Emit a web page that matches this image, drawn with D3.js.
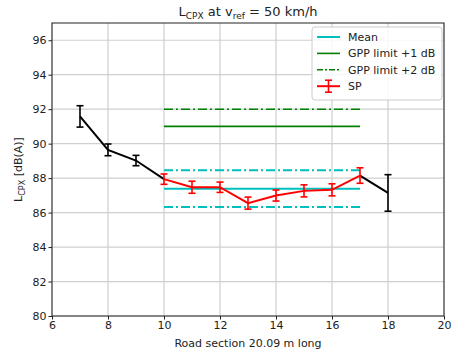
<!DOCTYPE html>
<html>
<head>
<meta charset="utf-8">
<script src="https://cdnjs.cloudflare.com/ajax/libs/d3/7.8.5/d3.min.js"></script>
<style>
  body { margin: 0; background: #fff; }
  text { font-family: "DejaVu Sans", sans-serif; fill: #222; }
</style>
</head>
<body>
<script>
// black segments (outside the SP range)
const leftX = [7, 8, 9, 10];
const leftY = [91.58, 89.64, 89.02, 87.94];
const leftErr = [0.62, 0.34, 0.3, 0];
const rightX = [17, 18];
const rightY = [88.15, 87.14];
const rightErr = [0, 1.06];
// SP series (red)
const spX = [10, 11, 12, 13, 14, 15, 16, 17];
const spY = [87.94, 87.47, 87.47, 86.55, 86.99, 87.26, 87.32, 88.15];
const spErr = [0.3, 0.35, 0.3, 0.35, 0.32, 0.35, 0.35, 0.45];
// horizontal reference lines over x 10..17
const meanVal = 87.39, meanBand = 1.07;
const gpp1 = 91, gpp2 = 92;
const xTicks = [6, 8, 10, 12, 14, 16, 18, 20];
const yTicks = [80, 82, 84, 86, 88, 90, 92, 94, 96];

const W = 451, H = 354;
const m = {l: 52, r: 7, t: 23, b: 38};
const svg = d3.select("body").append("svg").attr("width", W).attr("height", H);

const x = d3.scaleLinear().domain([6, 20]).range([m.l, W - m.r]);
const y = d3.scaleLinear().domain([80, 97]).range([H - m.b, m.t]);

const g = svg.append("g");

// grid
g.selectAll(".gx").data(xTicks).enter().append("line")
  .attr("x1", d => x(d)).attr("x2", d => x(d)).attr("y1", y(80)).attr("y2", y(97))
  .attr("stroke", "#cfcfcf").attr("stroke-width", 1.2);
g.selectAll(".gy").data(yTicks).enter().append("line")
  .attr("x1", x(6)).attr("x2", x(20)).attr("y1", d => y(d)).attr("y2", d => y(d))
  .attr("stroke", "#cfcfcf").attr("stroke-width", 1.2);

// axes
const xAxis = g.append("g").attr("transform", `translate(0,${y(80)})`)
  .call(d3.axisBottom(x).tickValues(xTicks).tickSize(3.5).tickPadding(2));
const yAxis = g.append("g").attr("transform", `translate(${x(6)},0)`)
  .call(d3.axisLeft(y).tickValues(yTicks).tickSize(3.5).tickPadding(2));
[xAxis, yAxis].forEach(a => {
  a.select(".domain").remove();
  a.selectAll("text").style("font-size", "11px").style("font-family", "DejaVu Sans").attr("fill", "#222");
  a.selectAll("line").attr("stroke", "#222");
});

function hline(v, color, dash, width) {
  g.append("line").attr("x1", x(10)).attr("x2", x(17)).attr("y1", y(v)).attr("y2", y(v))
    .attr("stroke", color).attr("stroke-width", width).attr("stroke-dasharray", dash);
}
const dashDot = "9,3,2,3";
hline(meanVal, "#00bfbf", null, 2);
hline(meanVal + meanBand, "#00bfbf", dashDot, 2);
hline(meanVal - meanBand, "#00bfbf", dashDot, 2);
hline(gpp1, "#008000", null, 1.6);
hline(gpp2, "#008000", dashDot, 1.6);

const line = d3.line().x(d => x(d[0])).y(d => y(d[1]));
function series(xs, ys, es, color) {
  const pts = xs.map((v, i) => [v, ys[i], es[i]]);
  g.append("path").datum(pts).attr("d", line).attr("fill", "none")
    .attr("stroke", color).attr("stroke-width", 2);
  const eb = g.append("g").selectAll("g").data(pts.filter(p => p[2] > 0)).enter().append("g")
    .attr("stroke", color).attr("stroke-width", 1.6);
  eb.append("line").attr("x1", d => x(d[0])).attr("x2", d => x(d[0]))
    .attr("y1", d => y(d[1] - d[2])).attr("y2", d => y(d[1] + d[2]));
  eb.append("line").attr("x1", d => x(d[0]) - 3.5).attr("x2", d => x(d[0]) + 3.5)
    .attr("y1", d => y(d[1] - d[2])).attr("y2", d => y(d[1] - d[2]));
  eb.append("line").attr("x1", d => x(d[0]) - 3.5).attr("x2", d => x(d[0]) + 3.5)
    .attr("y1", d => y(d[1] + d[2])).attr("y2", d => y(d[1] + d[2]));
}
series(leftX, leftY, leftErr, "#000");
series(rightX, rightY, rightErr, "#000");
series(spX, spY, spErr, "#ff0000");

// frame
g.append("rect").attr("x", x(6)).attr("y", y(97)).attr("width", x(20) - x(6)).attr("height", y(80) - y(97))
  .attr("fill", "none").attr("stroke", "#222").attr("stroke-width", 1);

// legend
const leg = svg.append("g").attr("transform", "translate(312,27)");
leg.append("rect").attr("width", 130).attr("height", 73).attr("rx", 3)
  .attr("fill", "rgba(255,255,255,0.85)").attr("stroke", "#ccc");
const legItems = [
  {label: "Mean", color: "#00bfbf", dash: null, w: 2},
  {label: "GPP limit +1 dB", color: "#008000", dash: null, w: 1.6},
  {label: "GPP limit +2 dB", color: "#008000", dash: "6,2,2,2", w: 1.6},
  {label: "SP", color: "#ff0000", dash: null, w: 2, err: true}
];
legItems.forEach((d, i) => {
  const cy = 10 + i * 16.4;
  leg.append("line").attr("x1", 5).attr("x2", 28).attr("y1", cy).attr("y2", cy)
    .attr("stroke", d.color).attr("stroke-width", d.w).attr("stroke-dasharray", d.dash);
  if (d.err) {
    leg.append("line").attr("x1", 16.5).attr("x2", 16.5).attr("y1", cy - 6).attr("y2", cy + 6)
      .attr("stroke", d.color).attr("stroke-width", 1.6);
    [-6, 6].forEach(o => leg.append("line").attr("x1", 13).attr("x2", 20).attr("y1", cy + o).attr("y2", cy + o)
      .attr("stroke", d.color).attr("stroke-width", 1.6));
  }
  leg.append("text").attr("x", 36).attr("y", cy + 4).style("font-size", "11px").text(d.label);
});

// title
const title = svg.append("text").attr("x", x(13)).attr("y", 16).attr("text-anchor", "middle").style("font-size", "13px");
title.append("tspan").text("L");
title.append("tspan").attr("dy", 3).style("font-size", "9px").text("CPX");
title.append("tspan").attr("dy", -3).text(" at v");
title.append("tspan").attr("dy", 3).style("font-size", "9px").text("ref");
title.append("tspan").attr("dy", -3).text(" = 50 km/h");

// axis labels
svg.append("text").attr("x", x(13)).attr("y", 347).attr("text-anchor", "middle")
  .style("font-size", "11px").text("Road section 20.09 m long");
const yl = svg.append("text").attr("transform", `translate(22,${y(88.5)}) rotate(-90)`)
  .attr("text-anchor", "middle").style("font-size", "11px");
yl.append("tspan").text("L");
yl.append("tspan").attr("dy", 2.5).style("font-size", "8px").text("CPX");
yl.append("tspan").attr("dy", -2.5).text(" [dB(A)]");
</script>
</body>
</html>
